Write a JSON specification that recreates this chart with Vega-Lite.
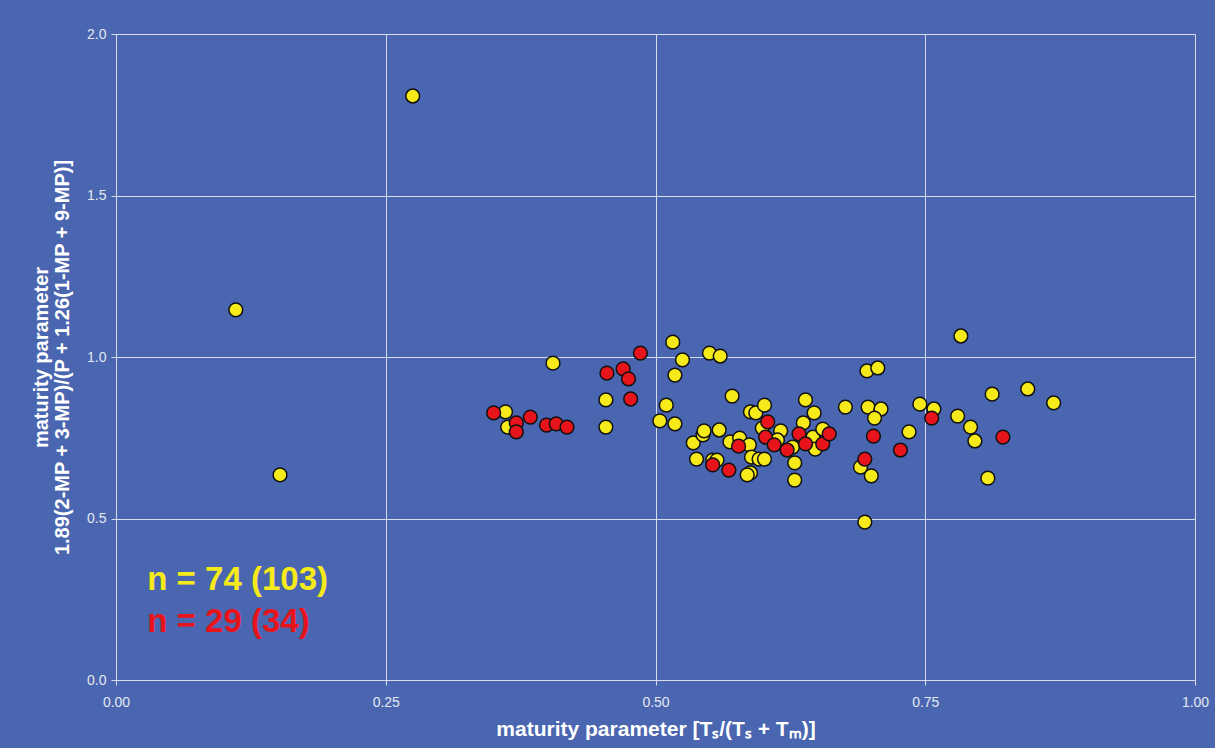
{
  "$schema": "https://vega.github.io/schema/vega-lite/v6.json",
  "autosize": "none",
  "width": 1079,
  "height": 646,
  "padding": {"left": 116, "top": 34, "right": 20, "bottom": 68},
  "background": "#4a66b0",
  "config": {
    "view": {"stroke": null},
    "font": "Liberation Sans"
  },
  "datasets": {
    "pts": [
      {"g": "yellow", "x": 0.275, "y": 1.808},
      {"g": "yellow", "x": 0.111, "y": 1.146},
      {"g": "yellow", "x": 0.152, "y": 0.635},
      {"g": "yellow", "x": 0.405, "y": 0.981},
      {"g": "yellow", "x": 0.361, "y": 0.830},
      {"g": "yellow", "x": 0.363, "y": 0.783},
      {"g": "yellow", "x": 0.454, "y": 0.867},
      {"g": "yellow", "x": 0.454, "y": 0.783},
      {"g": "yellow", "x": 0.516, "y": 1.046},
      {"g": "yellow", "x": 0.525, "y": 0.991},
      {"g": "yellow", "x": 0.550, "y": 1.012},
      {"g": "yellow", "x": 0.560, "y": 1.003},
      {"g": "yellow", "x": 0.518, "y": 0.944},
      {"g": "yellow", "x": 0.571, "y": 0.879},
      {"g": "yellow", "x": 0.510, "y": 0.851},
      {"g": "yellow", "x": 0.504, "y": 0.802},
      {"g": "yellow", "x": 0.518, "y": 0.793},
      {"g": "yellow", "x": 0.535, "y": 0.734},
      {"g": "yellow", "x": 0.544, "y": 0.759},
      {"g": "yellow", "x": 0.545, "y": 0.771},
      {"g": "yellow", "x": 0.559, "y": 0.774},
      {"g": "yellow", "x": 0.538, "y": 0.684},
      {"g": "yellow", "x": 0.553, "y": 0.681},
      {"g": "yellow", "x": 0.557, "y": 0.681},
      {"g": "yellow", "x": 0.569, "y": 0.737},
      {"g": "yellow", "x": 0.578, "y": 0.749},
      {"g": "yellow", "x": 0.587, "y": 0.728},
      {"g": "yellow", "x": 0.589, "y": 0.690},
      {"g": "yellow", "x": 0.596, "y": 0.684},
      {"g": "yellow", "x": 0.601, "y": 0.684},
      {"g": "yellow", "x": 0.588, "y": 0.641},
      {"g": "yellow", "x": 0.585, "y": 0.635},
      {"g": "yellow", "x": 0.588, "y": 0.830},
      {"g": "yellow", "x": 0.593, "y": 0.827},
      {"g": "yellow", "x": 0.601, "y": 0.851},
      {"g": "yellow", "x": 0.599, "y": 0.780},
      {"g": "yellow", "x": 0.616, "y": 0.771},
      {"g": "yellow", "x": 0.613, "y": 0.743},
      {"g": "yellow", "x": 0.627, "y": 0.721},
      {"g": "yellow", "x": 0.629, "y": 0.672},
      {"g": "yellow", "x": 0.629, "y": 0.619},
      {"g": "yellow", "x": 0.639, "y": 0.867},
      {"g": "yellow", "x": 0.647, "y": 0.827},
      {"g": "yellow", "x": 0.637, "y": 0.796},
      {"g": "yellow", "x": 0.646, "y": 0.752},
      {"g": "yellow", "x": 0.648, "y": 0.715},
      {"g": "yellow", "x": 0.655, "y": 0.777},
      {"g": "yellow", "x": 0.676, "y": 0.845},
      {"g": "yellow", "x": 0.696, "y": 0.957},
      {"g": "yellow", "x": 0.706, "y": 0.966},
      {"g": "yellow", "x": 0.697, "y": 0.845},
      {"g": "yellow", "x": 0.709, "y": 0.839},
      {"g": "yellow", "x": 0.703, "y": 0.811},
      {"g": "yellow", "x": 0.690, "y": 0.659},
      {"g": "yellow", "x": 0.700, "y": 0.632},
      {"g": "yellow", "x": 0.694, "y": 0.489},
      {"g": "yellow", "x": 0.745, "y": 0.854},
      {"g": "yellow", "x": 0.758, "y": 0.839},
      {"g": "yellow", "x": 0.735, "y": 0.768},
      {"g": "yellow", "x": 0.780, "y": 0.817},
      {"g": "yellow", "x": 0.792, "y": 0.783},
      {"g": "yellow", "x": 0.796, "y": 0.740},
      {"g": "yellow", "x": 0.783, "y": 1.065},
      {"g": "yellow", "x": 0.812, "y": 0.885},
      {"g": "yellow", "x": 0.845, "y": 0.901},
      {"g": "yellow", "x": 0.869, "y": 0.858},
      {"g": "yellow", "x": 0.808, "y": 0.625},
      {"g": "red", "x": 0.350, "y": 0.827},
      {"g": "red", "x": 0.371, "y": 0.796},
      {"g": "red", "x": 0.371, "y": 0.768},
      {"g": "red", "x": 0.384, "y": 0.814},
      {"g": "red", "x": 0.399, "y": 0.789},
      {"g": "red", "x": 0.408, "y": 0.793},
      {"g": "red", "x": 0.418, "y": 0.783},
      {"g": "red", "x": 0.455, "y": 0.950},
      {"g": "red", "x": 0.470, "y": 0.963},
      {"g": "red", "x": 0.475, "y": 0.932},
      {"g": "red", "x": 0.477, "y": 0.870},
      {"g": "red", "x": 0.486, "y": 1.012},
      {"g": "red", "x": 0.553, "y": 0.666},
      {"g": "red", "x": 0.568, "y": 0.650},
      {"g": "red", "x": 0.577, "y": 0.724},
      {"g": "red", "x": 0.604, "y": 0.799},
      {"g": "red", "x": 0.602, "y": 0.752},
      {"g": "red", "x": 0.610, "y": 0.728},
      {"g": "red", "x": 0.622, "y": 0.712},
      {"g": "red", "x": 0.633, "y": 0.762},
      {"g": "red", "x": 0.639, "y": 0.731},
      {"g": "red", "x": 0.655, "y": 0.731},
      {"g": "red", "x": 0.661, "y": 0.762},
      {"g": "red", "x": 0.702, "y": 0.755},
      {"g": "red", "x": 0.694, "y": 0.684},
      {"g": "red", "x": 0.756, "y": 0.811},
      {"g": "red", "x": 0.727, "y": 0.712},
      {"g": "red", "x": 0.822, "y": 0.752}
    ],
    "labels": [
      {"g": "yellow", "x": 0.029, "y": 0.31, "t": "n = 74 (103)"},
      {"g": "red", "x": 0.029, "y": 0.18, "t": "n = 29 (34)"}
    ]
  },
  "layer": [
    {
      "data": {"name": "pts"},
      "mark": {"type": "point", "filled": true, "shape": "circle", "size": 190, "stroke": "#111111", "strokeWidth": 1.5, "opacity": 1},
      "encoding": {
        "x": {
          "field": "x", "type": "quantitative",
          "scale": {"domain": [0, 1], "nice": false, "zero": false},
          "axis": {
            "values": [0, 0.25, 0.5, 0.75, 1.0], "format": ".2f", "labelFlush": false,
            "title": "maturity parameter [Tₛ/(Tₛ + Tₘ)]",
            "titleColor": "#ffffff", "titleFontSize": 21, "titleFontWeight": "bold", "titlePadding": 9,
            "labelColor": "#e4e8f0", "labelFontSize": 14, "labelFontWeight": "normal", "labelPadding": 10,
            "domainColor": "#d8dcea", "tickColor": "#d8dcea", "tickSize": 5,
            "gridColor": "#d8dcea", "gridWidth": 1, "grid": true
          }
        },
        "y": {
          "field": "y", "type": "quantitative",
          "scale": {"domain": [0, 2], "nice": false, "zero": false},
          "axis": {
            "values": [0, 0.5, 1.0, 1.5, 2.0], "format": ".1f", "labelFlush": false,
            "title": ["maturity parameter", "1.89(2-MP + 3-MP)/(P + 1.26(1-MP + 9-MP)]"],
            "titleColor": "#ffffff", "titleFontSize": 20, "titleFontWeight": "bold", "titlePadding": 14, "titleLineHeight": 21,
            "labelColor": "#e4e8f0", "labelFontSize": 14, "labelPadding": 5,
            "domainColor": "#d8dcea", "tickColor": "#d8dcea", "tickSize": 5,
            "gridColor": "#d8dcea", "gridWidth": 1, "grid": true
          }
        },
        "fill": {
          "field": "g", "type": "nominal",
          "scale": {"domain": ["yellow", "red"], "range": ["#f7ea1a", "#e8141c"]},
          "legend": null
        },
        "order": {"field": "g", "sort": "descending"}
      }
    },
    {
      "data": {"name": "labels"},
      "mark": {"type": "text", "align": "left", "baseline": "middle", "fontSize": 33, "fontWeight": "bold", "font": "Liberation Sans"},
      "encoding": {
        "x": {"field": "x", "type": "quantitative"},
        "y": {"field": "y", "type": "quantitative"},
        "text": {"field": "t"},
        "color": {
          "field": "g", "type": "nominal",
          "scale": {"domain": ["yellow", "red"], "range": ["#f7ea1a", "#e8141c"]},
          "legend": null
        }
      }
    }
  ]
}
